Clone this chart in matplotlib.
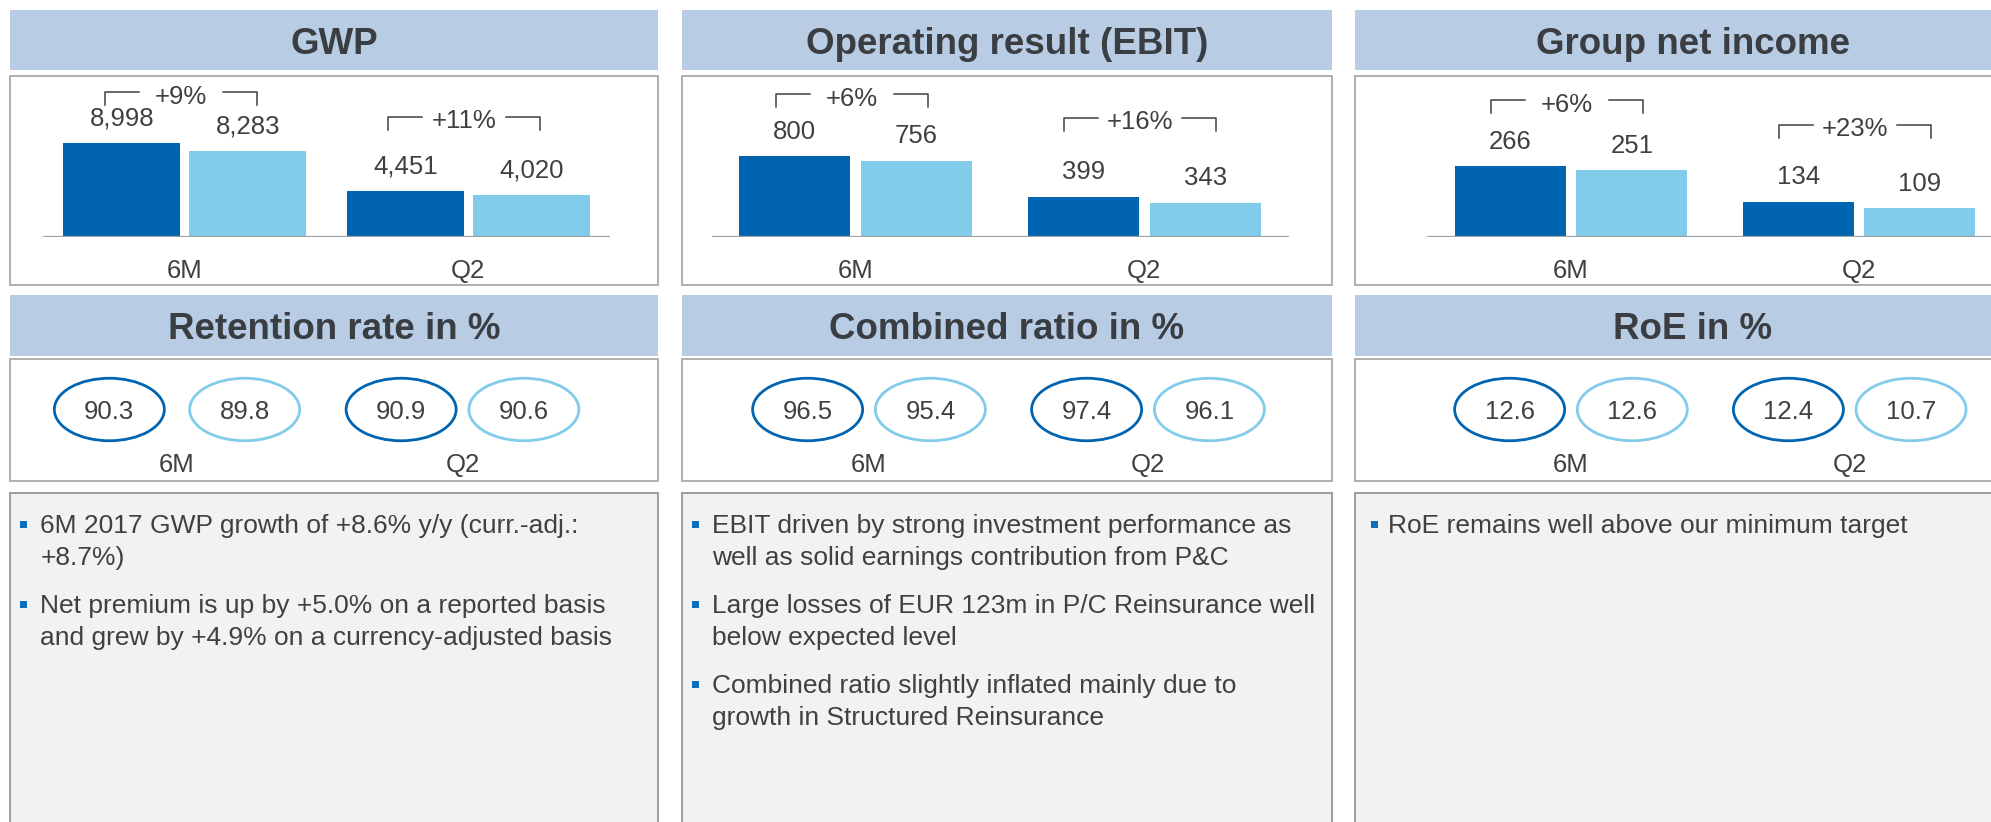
import matplotlib.pyplot as plt
from matplotlib.patches import Rectangle, Ellipse

plt.rcParams['font.family'] = ['Liberation Sans', 'DejaVu Sans']

# ---- data -------------------------------------------------------------------
periods = ['6M', 'Q2']

bar_titles = ['GWP', 'Operating result (EBIT)', 'Group net income']
bar_cur = [[8998, 4451], [800, 399], [266, 134]]
bar_prev = [[8283, 4020], [756, 343], [251, 109]]
bar_growth = [['+9%', '+11%'], ['+6%', '+16%'], ['+6%', '+23%']]

ratio_titles = ['Retention rate in %', 'Combined ratio in %', 'RoE in %']
ratio_cur = [[90.3, 90.9], [96.5, 97.4], [12.6, 12.4]]
ratio_prev = [[89.8, 90.6], [95.4, 96.1], [12.6, 10.7]]

notes = [
    [['6M 2017 GWP growth of +8.6% y/y (curr.-adj.:', '+8.7%)'],
     ['Net premium is up by +5.0% on a reported basis',
      'and grew by +4.9% on a currency-adjusted basis']],
    [['EBIT driven by strong investment performance as',
      'well as solid earnings contribution from P&C'],
     ['Large losses of EUR 123m in P/C Reinsurance well',
      'below expected level'],
     ['Combined ratio slightly inflated mainly due to',
      'growth in Structured Reinsurance']],
    [['RoE remains well above our minimum target']],
]

# ---- style / layout (pixels) -----------------------------------------------
DARK = '#0064b1'
LIGHT = '#82cbea'
HEAD_BG = '#b8cce4'
TITLE_C = '#3a3e43'
TEXT_C = '#404040'
BORDER = '#a3a3a3'
FS = 18.5
FS_NOTE = 19
FS_TITLE = 26.5

W, H = 1991, 822
COLS = [(10, 658), (682, 1332), (1355, 2030)]
HEAD1, BOX1 = (10, 70), (76, 285)
HEAD2, BOX2 = (295, 356), (359, 481)
NOTE_TOP = 492.5
BASE_Y = 237.5

bar_x = [(43, 610), (711.5, 1288.5), (1427, 2003)]
bar_off = [0.222, 0.211, 0.211]
bar_w = [0.413, 0.384, 0.385]
bar_ymax = [15400, 1590, 605]
bracket_top = [(92.5, 116.7), (94.3, 117.7), (100, 125)]

ell_x = [(34.25, 605.25), (729.5, 1287.5), (1431.6, 1989.1)]
ell_off = [(0.237, 0.215), (0.22, 0.22), (0.22, 0.22)]

text_x = [40.5, 712.5, 1388]
bullet_x = [20, 692, 1371]

fig = plt.figure(figsize=(W / 100, H / 100), dpi=100)
bg = fig.add_axes([0, 0, 1, 1])
bg.set_xlim(0, W)
bg.set_ylim(H, 0)
bg.axis('off')


def px_axes(x0, y0, x1, y1):
    return fig.add_axes([x0 / W, 1 - y1 / H, (x1 - x0) / W, (y1 - y0) / H])


def header(col, rows, title):
    x0, x1 = COLS[col]
    bg.add_patch(Rectangle((x0, rows[0]), x1 - x0, rows[1] - rows[0],
                           facecolor=HEAD_BG, edgecolor='none'))
    bg.text((x0 + x1) / 2, (rows[0] + rows[1]) / 2 + 13.5, title,
            ha='center', va='baseline', fontsize=FS_TITLE, fontweight='bold',
            color=TITLE_C)


def frame(col, rows, face='white', edge=BORDER):
    x0, x1 = COLS[col]
    bg.add_patch(Rectangle((x0, rows[0]), x1 - x0, rows[1] - rows[0],
                           facecolor=face, edgecolor=edge, lw=1.2))


for c in range(3):
    # --- row 1: bar chart ---
    header(c, HEAD1, bar_titles[c])
    frame(c, BOX1)
    x0, x1 = bar_x[c]
    ax = px_axes(x0, BOX1[0], x1, BASE_Y)
    ax.set_xlim(-0.5, 1.5)
    ax.set_ylim(0, bar_ymax[c])
    ax.axis('off')
    for g in range(2):
        for s, (vals, col) in enumerate([(bar_cur[c], DARK), (bar_prev[c], LIGHT)]):
            xx = g + (bar_off[c] if s else -bar_off[c])
            ax.bar(xx, vals[g], width=bar_w[c], color=col)
            ax.annotate(f'{vals[g]:,}', (xx, vals[g]), xytext=(0, 12.6),
                        textcoords='offset points', ha='center', va='baseline',
                        fontsize=FS, color=TEXT_C)
        ax.annotate(periods[g], (g, 0), xytext=(0, -29.4),
                    textcoords='offset points', ha='center', va='baseline',
                    fontsize=FS, color=TEXT_C, annotation_clip=False)
    ax.axhline(0, color='#a0a0a0', lw=1.6)

    # growth brackets
    step = (x1 - x0) / 2
    for g in range(2):
        cx = x0 + (g + 0.5) * step - 4
        top = bracket_top[c][g]
        xl, xr = cx - 76, cx + 76
        bg.plot([xl, xl, xl + 34], [top + 13, top, top], color=TEXT_C, lw=1.1)
        bg.plot([xr - 34, xr, xr], [top, top, top + 13], color=TEXT_C, lw=1.1)
        bg.text(cx, top + 11.5, bar_growth[c][g], ha='center', va='baseline',
                fontsize=FS, color=TEXT_C)

    # --- row 2: ratios in ellipses ---
    header(c, HEAD2, ratio_titles[c])
    frame(c, BOX2)
    ex0, ex1 = ell_x[c]
    ax2 = px_axes(ex0, BOX2[0], ex1, BOX2[1])
    ax2.set_xlim(-0.5, 1.5)
    ax2.set_ylim(BOX2[1], BOX2[0])
    ax2.axis('off')
    ew = 110 / ((ex1 - ex0) / 2)
    for g in range(2):
        for s, (vals, col) in enumerate([(ratio_cur[c], DARK), (ratio_prev[c], LIGHT)]):
            xx = g + (ell_off[c][g] if s else -ell_off[c][g])
            ax2.add_patch(Ellipse((xx, 409.5), ew, 62.5, fill=False,
                                  edgecolor=col, lw=2.0))
            ax2.text(xx, 419, f'{vals[g]:.1f}', ha='center', va='baseline',
                     fontsize=FS, color=TEXT_C)
        ax2.text(g, 472, periods[g], ha='center', va='baseline',
                 fontsize=FS, color=TEXT_C)

    # --- row 3: commentary ---
    frame(c, (NOTE_TOP, H + 20), face='#f2f2f2', edge='#8c8c8c')
    y = 533.3
    for para in notes[c]:
        bg.add_patch(Rectangle((bullet_x[c], y - 12.6), 7, 7,
                               facecolor='#0a6ebd', edgecolor='none'))
        for line in para:
            bg.text(text_x[c], y, line, ha='left', va='baseline',
                    fontsize=FS_NOTE, color=TEXT_C)
            y += 31.7
        y += 16.6

fig.savefig('out.png', dpi=100)
